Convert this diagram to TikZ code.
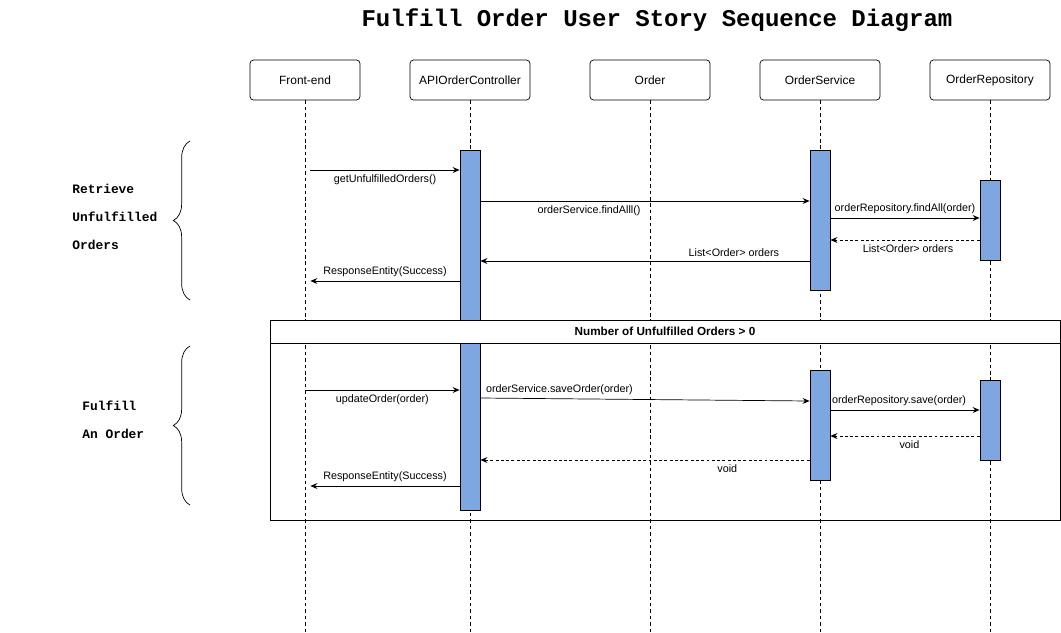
\documentclass[tikz,border=0pt]{standalone}
\usepackage{fontspec}
\setmainfont{Liberation Sans}
\setmonofont{Liberation Mono}
\usetikzlibrary{arrows.meta,decorations.pathreplacing}
\definecolor{barblue}{HTML}{7EA6E0}

\begin{document}
\begin{tikzpicture}[x=0.03cm,y=-0.03cm,line width=0.6pt,
    every node/.style={font=\fontsize{9.2}{11}\selectfont},
    actor/.style={draw,rounded corners=3pt,minimum width=3.6cm,minimum height=1.2cm,
      font=\fontsize{10.2}{12}\selectfont},
    lifeline/.style={line width=0.5pt,dash pattern=on 3pt off 2.5pt},
    bar/.style={draw,fill=barblue,anchor=north,minimum width=0.6cm,inner sep=0pt},
    msg/.style={-{Stealth[length=6pt,width=5pt,inset=2pt]}},
    reply/.style={msg,dash pattern=on 2.5pt off 2pt},
    side/.style={anchor=west,align=left,inner sep=0pt,
      font=\ttfamily\bfseries\fontsize{11}{23.9}\selectfont},
    brace/.style={decorate,decoration={brace,amplitude=0.5cm}}]
  \useasboundingbox (0,0) rectangle (1061,632);
  \node[font=\ttfamily\bfseries\fontsize{20.5}{24}\selectfont] (title) at (657,20)
    {Fulfill Order User Story Sequence Diagram};
  % participants and their lifelines
  \foreach \nm/\xx/\ww/\txt in {fe/305/3.3/Front-end,ctrl/470/3.6/APIOrderController,
      ord/650/3.6/Order,svc/820/3.6/OrderService,repo/990/3.6/OrderRepository} {
    \node[actor,minimum width=\ww cm] (\nm) at (\xx,80) {\txt};
    \draw[lifeline] (\nm.south) -- (\nm |- 0,632);
  }
  \coordinate (feR) at ([xshift=0.16cm]fe.south);
  \node[draw,minimum width=23.7cm,minimum height=6cm] (alt) at (665,420) {};
  % activation bars
  \foreach \nm/\xx/\ya/\yb in {ctrlA/470/150/510,svcA/820/150/290,repoA/990/180/260,
      svcB/820/370/480,repoB/990/380/460}
    \node[bar,minimum height={(\yb-\ya)*0.03cm}] (\nm) at (\xx,\ya) {};
  \node[draw,fill=white,anchor=north,minimum width=23.7cm,minimum height=0.69cm,
    font=\bfseries\fontsize{10}{12}\selectfont] (cond) at (alt.north)
    {Number of Unfulfilled Orders > 0};
  % messages
  \foreach \st/\a/\b/\y/\yy/\p/\sd/\txt in {
      msg/feR/ctrlA.west/170/170/0.5/below/getUnfulfilledOrders(),
      msg/ctrlA.east/svcA.west/201/201/0.33/below/orderService.findAlll(),
      msg/svcA.east/repoA.west/218/218/0.5/above/orderRepository.findAll(order),
      reply/repoA.west/svcA.east/240/240/0.48/below/List<Order> orders,
      msg/svcA.west/ctrlA.east/261/261/0.23/above/List<Order> orders,
      msg/ctrlA.west/feR/281/281/0.5/above/ResponseEntity(Success),
      msg/fe/ctrlA.west/390/390/0.5/below/updateOrder(order),
      msg/ctrlA.east/svcB.west/398/401/0.24/above/orderService.saveOrder(order),
      msg/svcB.east/repoB.west/410/410/0.46/above/orderRepository.save(order),
      reply/repoB.west/svcB.east/436/436/0.47/below/void,
      reply/svcB.west/ctrlA.east/460/460/0.25/below/void,
      msg/ctrlA.west/feR/486/486/0.5/above/ResponseEntity(Success)}
    \draw[\st] (\a |- 0,\y) -- (\b |- 0,\yy) node[pos=\p,\sd] {\txt};
  % phases
  \node[side] (get) at (72,217) {Retrieve\\Unfulfilled\\Orders};
  \node[side] (ful) at (82,420) {Fulfill\\An Order};
  \draw[brace] (190,300) -- (190,141);
  \draw[brace] (190,505) -- (190,346);
\end{tikzpicture}
\end{document}
